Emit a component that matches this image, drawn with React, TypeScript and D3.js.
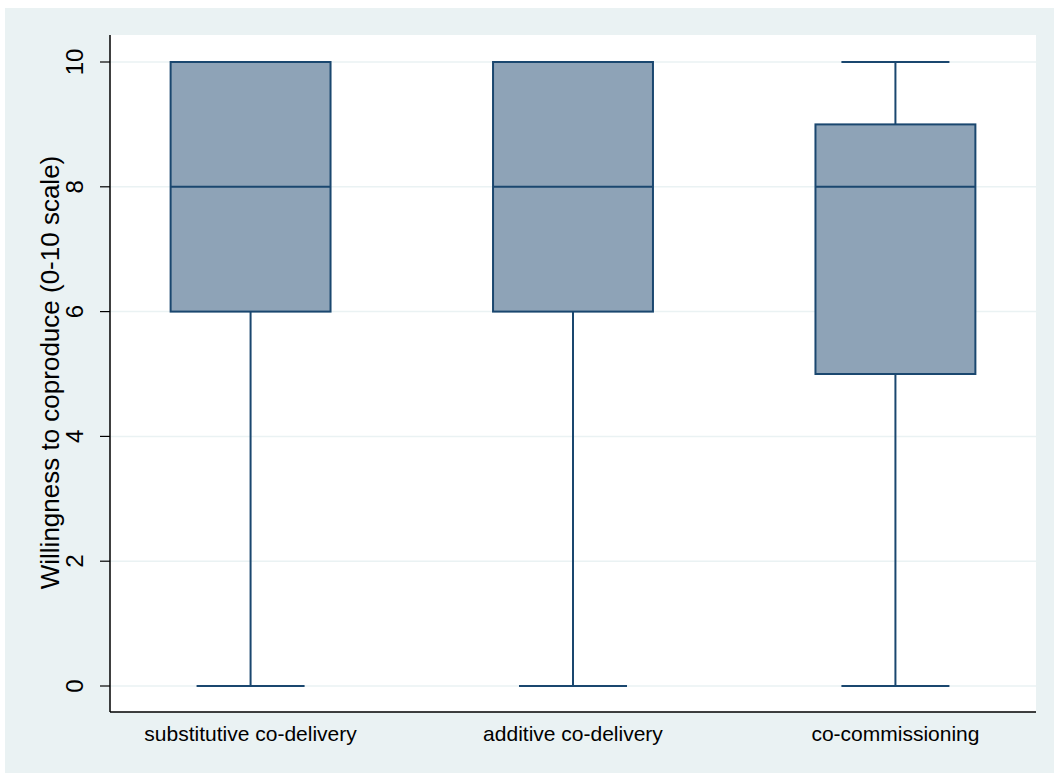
import React from "react";
import * as d3 from "d3";

const categories = ["substitutive co-delivery", "additive co-delivery", "co-commissioning"];
const mins = [0, 0, 0];
const q1s = [6, 6, 5];
const medians = [8, 8, 8];
const q3s = [10, 10, 9];
const maxs = [10, 10, 10];
const yTicks = [0, 2, 4, 6, 8, 10];
const yTitle = "Willingness to coproduce (0-10 scale)";

export default function App() {
  const W = 1054, H = 774;
  const left = 110, right = 1036, top = 35, bottom = 712;
  const y = d3.scaleLinear().domain([0, 10]).range([686, 62]);
  const x = d3.scalePoint<string>().domain(categories).range([left, right]).padding(0.436);
  const step = x.step();
  const boxW = step * 0.496;
  const capW = step * 0.335;
  const navy = "#1a476f";
  const font = "'Liberation Sans', Arial, Helvetica, sans-serif";
  return (
    <svg width={W} height={H} style={{ position: "absolute", left: 0, top: 0 }}>
      <rect x={0} y={0} width={W} height={H} fill="#ffffff" />
      <rect x={5} y={8} width={W - 5} height={H - 9} fill="#eaf2f3" />
      <rect x={left} y={top} width={right - left} height={bottom - top} fill="#ffffff" />
      {yTicks.map((t) => (
        <g key={t}>
          <line x1={left} x2={right} y1={y(t)} y2={y(t)} stroke="#eaf2f3" strokeWidth={1.5} />
          <line x1={100} x2={left} y1={y(t)} y2={y(t)} stroke="#000" strokeWidth={1.2} />
          <text
            transform={`translate(83,${y(t)}) rotate(-90)`}
            textAnchor="middle"
            fontFamily={font}
            fontSize={24}
            fill="#000"
          >
            {t}
          </text>
        </g>
      ))}
      {categories.map((c, i) => {
        const cx = x(c)!;
        return (
          <g key={c}>
            <line x1={cx} x2={cx} y1={y(q1s[i])} y2={y(mins[i])} stroke={navy} strokeWidth={2} />
            <line x1={cx} x2={cx} y1={y(q3s[i])} y2={y(maxs[i])} stroke={navy} strokeWidth={2} />
            <line x1={cx - capW / 2} x2={cx + capW / 2} y1={y(mins[i])} y2={y(mins[i])} stroke={navy} strokeWidth={2} />
            <line x1={cx - capW / 2} x2={cx + capW / 2} y1={y(maxs[i])} y2={y(maxs[i])} stroke={navy} strokeWidth={2} />
            <rect
              x={cx - boxW / 2}
              y={y(q3s[i])}
              width={boxW}
              height={y(q1s[i]) - y(q3s[i])}
              fill="#8ea3b7"
              stroke={navy}
              strokeWidth={2}
            />
            <line x1={cx - boxW / 2} x2={cx + boxW / 2} y1={y(medians[i])} y2={y(medians[i])} stroke={navy} strokeWidth={2} />
            <text x={cx} y={741} textAnchor="middle" fontFamily={font} fontSize={21} fill="#000">
              {c}
            </text>
          </g>
        );
      })}
      <line x1={left} x2={left} y1={top} y2={bottom} stroke="#000" strokeWidth={1.5} />
      <line x1={left} x2={right} y1={bottom} y2={bottom} stroke="#000" strokeWidth={1.5} />
      <text
        transform={`translate(59,${(top + bottom) / 2 - 1}) rotate(-90)`}
        textAnchor="middle"
        fontFamily={font}
        fontSize={26}
        fill="#000"
      >
        {yTitle}
      </text>
    </svg>
  );
}
